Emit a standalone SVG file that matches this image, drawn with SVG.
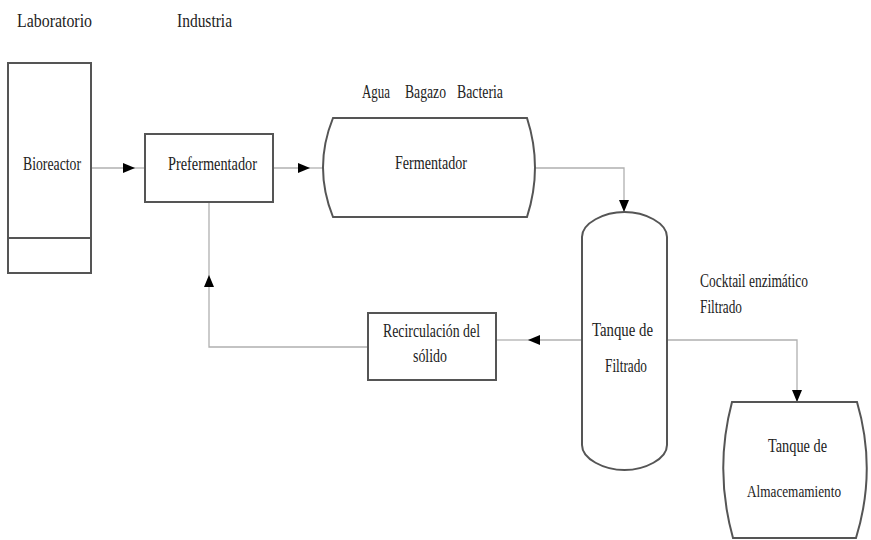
<svg xmlns="http://www.w3.org/2000/svg" width="871" height="540" viewBox="0 0 871 540">
<defs>
<marker id="arr" viewBox="0 0 12 10" refX="12" refY="5" markerWidth="12" markerHeight="10" markerUnits="userSpaceOnUse" orient="auto">
<path d="M0,0 L12,5 L0,10 Z" fill="#000"/>
</marker>
</defs>
<style>
.shape{fill:#fff;stroke:#555;stroke-width:2}
.conn{fill:none;stroke:#b0b0b0;stroke-width:1.3}
</style>
<rect width="871" height="540" fill="#fff"/>
<g font-family="Liberation Serif, Times New Roman, Noto Serif, DejaVu Serif, serif" font-size="18" fill="#222">
<text x="17" y="27" textLength="75" lengthAdjust="spacingAndGlyphs">Laboratorio</text>
<text x="177" y="27" textLength="55" lengthAdjust="spacingAndGlyphs">Industria</text>
</g>
<g id="connectors">
<path class="conn" d="M91,168 L135,168" marker-end="url(#arr)"/>
<path class="conn" d="M135,168 L145,168"/>
<path class="conn" d="M273,168 L310,168" marker-end="url(#arr)"/>
<path class="conn" d="M310,168 L324,168"/>
<path class="conn" d="M535,168 L624,168 L624,212" marker-end="url(#arr)"/>
<path class="conn" d="M667,340 L797,340 L797,402" marker-end="url(#arr)"/>
<path class="conn" d="M582,340 L528,340" marker-end="url(#arr)"/>
<path class="conn" d="M528,340 L496,340"/>
<path class="conn" d="M368,347 L209,347 L209,275" marker-end="url(#arr)"/>
<path class="conn" d="M209,275 L209,202"/>
</g>
<g font-family="Liberation Serif, Times New Roman, Noto Serif, DejaVu Serif, serif" font-size="18" fill="#222">
<g id="bioreactor">
<rect class="shape" x="8" y="63" width="83" height="210"/>
<line x1="8" y1="238" x2="91" y2="238" stroke="#555" stroke-width="2"/>
<text x="23" y="170" textLength="58" lengthAdjust="spacingAndGlyphs">Bioreactor</text>
</g>
<g id="prefermentador">
<rect class="shape" x="145" y="134" width="128" height="68"/>
<text x="168" y="170" textLength="89" lengthAdjust="spacingAndGlyphs">Prefermentador</text>
</g>
<g id="fermentador">
<text y="98"><tspan x="362" textLength="28" lengthAdjust="spacingAndGlyphs">Agua</tspan><tspan x="405" textLength="41" lengthAdjust="spacingAndGlyphs">Bagazo</tspan><tspan x="457" textLength="46" lengthAdjust="spacingAndGlyphs">Bacteria</tspan></text>
<path class="shape" d="M333,118 L527,118 Q543,167.5 527,217 L333,217 Q313,167.5 333,118 Z"/>
<text x="395" y="169" textLength="72" lengthAdjust="spacingAndGlyphs">Fermentador</text>
</g>
<g id="tanque-filtrado">
<path class="shape" d="M582,237 C582,223 604,212 624.5,212 C645,212 667,223 667,237 L667,445 C667,459 645,470 624.5,470 C604,470 582,459 582,445 Z"/>
<text x="592" y="336" textLength="61" lengthAdjust="spacingAndGlyphs">Tanque de</text>
<text x="605" y="372" textLength="42" lengthAdjust="spacingAndGlyphs">Filtrado</text>
</g>
<g id="label-cocktail">
<text x="700" y="287" textLength="108" lengthAdjust="spacingAndGlyphs">Cocktail enzimático</text>
<text x="700" y="313" textLength="42" lengthAdjust="spacingAndGlyphs">Filtrado</text>
</g>
<g id="tanque-almacenamiento">
<path class="shape" d="M732,402 L857,402 Q877,470 856,538 L733,538 Q714,470 732,402 Z"/>
<text x="768" y="452" textLength="59" lengthAdjust="spacingAndGlyphs">Tanque de</text>
<text x="747" y="497" font-size="16" textLength="94" lengthAdjust="spacingAndGlyphs">Almacemamiento</text>
</g>
<g id="recirculacion">
<rect class="shape" x="368" y="313" width="128" height="67"/>
<text x="383" y="337" textLength="97" lengthAdjust="spacingAndGlyphs">Recirculación del</text>
<text x="413" y="362" textLength="34" lengthAdjust="spacingAndGlyphs">sólido</text>
</g>
</g>
</svg>
